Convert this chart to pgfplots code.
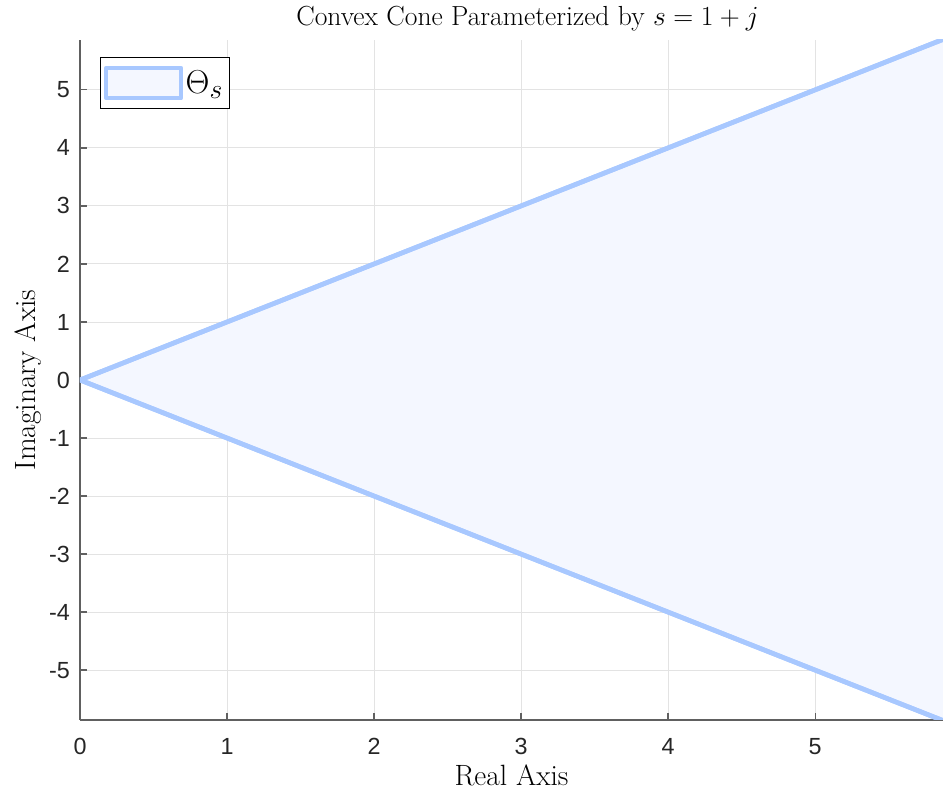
\documentclass[border=0pt]{standalone}
\usepackage{pgfplots}
\pgfplotsset{compat=1.18}
\usepackage{fontspec}
\newfontfamily\ticksf{Liberation Sans}
\definecolor{conel}{HTML}{A8C8FF}
\definecolor{conef}{HTML}{F4F7FF}
\definecolor{gridc}{HTML}{E3E3E3}
\definecolor{axc}{HTML}{606060}
\definecolor{tickc}{HTML}{262626}
\begin{document}
\begin{tikzpicture}
\begin{axis}[
  name=ax,
  scale only axis,
  width=647.25pt, height=510pt,
  xmin=0, xmax=5.87, ymin=-5.86, ymax=5.86,
  axis x line*=bottom, axis y line*=left,
  axis line style={axc, line width=0.9pt},
  tick align=inside,
  major tick length=5pt,
  tick style={axc, line width=0.9pt},
  xtick={0,1,2,3,4,5},
  xticklabels={0,1,2,3,4,5},
  ytick={-5,-4,-3,-2,-1,0,1,2,3,4,5},
  yticklabels={-5,-4,-3,-2,-1,0,1,2,3,4,5},
  ticklabel style={font=\ticksf\fontsize{17.5}{20}\selectfont, text=tickc},
  xticklabel style={yshift=-10pt},
  yticklabel style={xshift=-4pt},
  grid=major,
  major grid style={gridc, line width=0.7pt},
  title={Convex Cone Parameterized by $s = 1+j$},
  title style={font=\fontsize{20.7}{24}\selectfont, yshift=-3pt, xshift=12pt},
  xlabel={Real Axis},
  ylabel={Imaginary Axis},
  label style={font=\fontsize{22}{26}\selectfont},
  xlabel style={yshift=-1pt},
  ylabel style={yshift=-1pt},
  legend style={at={(axis description cs:0,1)}, anchor=north west, xshift=15pt, yshift=-13pt,
    draw=black, line width=0.6pt, font=\fontsize{31}{34}\selectfont, inner xsep=3pt, inner ysep=6pt},
  legend cell align=left,
  clip=true,
]
\addplot[draw=conel, fill=conef, line width=3.5pt, line join=round,
  legend image code/.code={\draw[line width=3pt, draw=conel, fill=conef] (0pt,-11.5pt) rectangle (56pt,11.5pt);}]
  coordinates {(7,7) (0,0) (7,-7)} -- cycle;
\addlegendentry{$\Theta_s$}
\addplot[draw=conel, line width=3.5pt, forget plot] coordinates {(7,7) (0,0) (7,-7)};
\end{axis}
\pgfresetboundingbox
\path ([shift={(-60pt,-57pt)}]ax.south west) rectangle ([shift={(0pt,30pt)}]ax.north east);
\end{tikzpicture}
\end{document}
